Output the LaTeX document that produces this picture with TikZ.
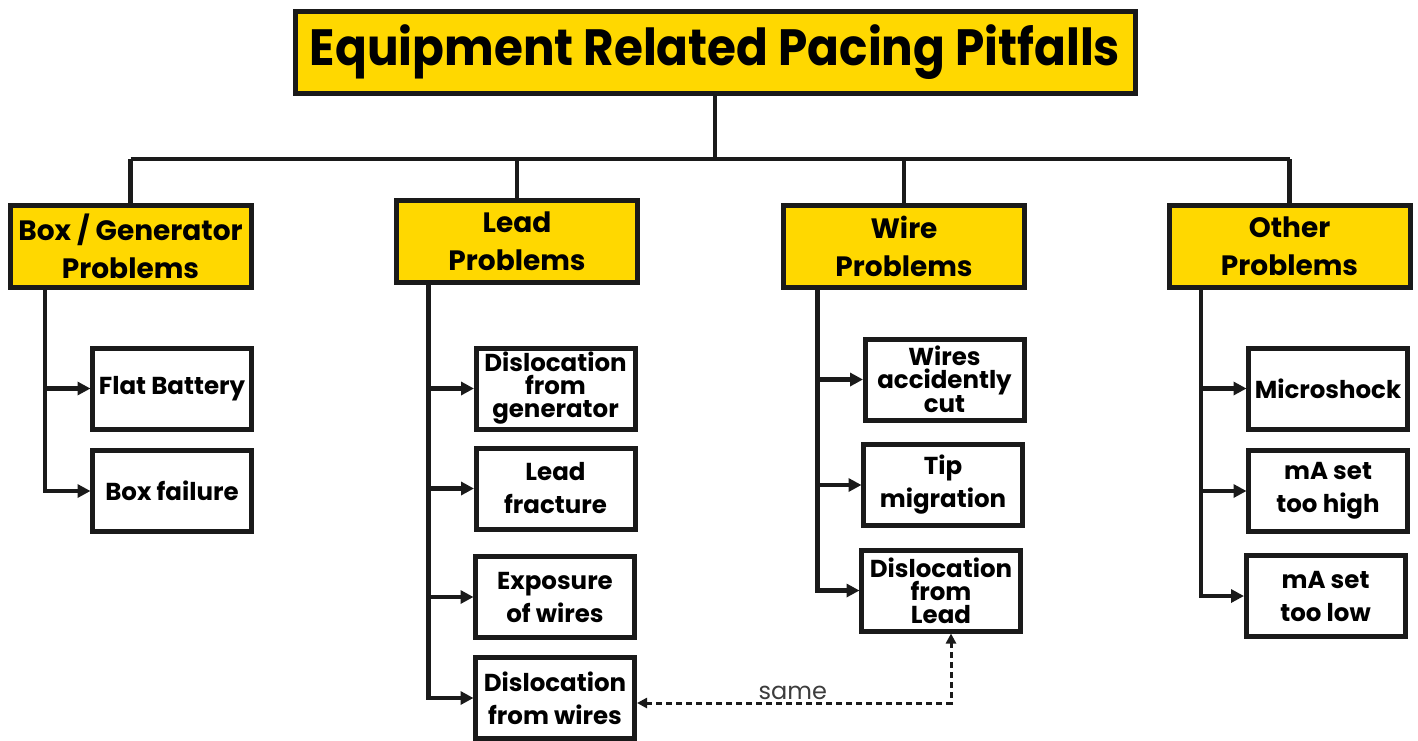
\documentclass[tikz,border=0pt]{standalone}
\usepackage{fontspec}
\setmainfont{Poppins}
\usetikzlibrary{arrows.meta,calc}
\definecolor{gyel}{RGB}{255,216,0}
\definecolor{ink}{RGB}{26,26,26}
\begin{document}
\begin{tikzpicture}[x=1pt,y=-1pt,
  every node/.style={inner sep=0pt, outer sep=0pt},
  titlebox/.style={draw=ink, fill=gyel, line width=5pt, minimum width=840pt, minimum height=82pt, font=\fontsize{51}{51}\selectfont\bfseries},
  hdr/.style={draw=ink, fill=gyel, line width=5pt, minimum width=241pt, minimum height=82pt, align=center, font=\fontsize{28}{38}\selectfont\bfseries},
  kid/.style={draw=ink, fill=white, line width=5pt, minimum width=159pt, minimum height=81pt, align=center, font=\fontsize{24.5}{33}\selectfont\bfseries},
  tight/.style={font=\fontsize{24.5}{23}\selectfont\bfseries},
  link/.style={draw=ink, line width=4.5pt},
  arr/.style={draw=ink, line width=4.5pt, shorten >=2pt, -{Triangle[length=13pt,width=13pt]}},
  dashln/.style={draw=ink, line width=3pt, dash pattern=on 6pt off 4pt, shorten >=2.5pt, shorten <=2.5pt, {Triangle[length=10pt,width=10pt]}-{Triangle[length=10pt,width=10pt]}}
]
\useasboundingbox (0,0) rectangle (1418,740);

% title
\node[titlebox] (title) at (715,52) {\resizebox{810pt}{\height}{Equipment Related Pacing Pitfalls}};

% headers
\node[hdr] (gen)   at (130.5,246) {Box / Generator\\Problems};
\node[hdr] (lead)  at (517,241.5) {Lead\\Problems};
\node[hdr] (wire)  at (904,246)   {Wire\\Problems};
\node[hdr] (other) at (1289.5,246.5) {Other\\Problems};

% bus
\coordinate (bus) at (715,159);
\draw[link, line width=4pt] (title.south) -- (bus);
\draw[link] (gen.north |- bus) -- (other.north |- bus);
\foreach \n in {gen,lead,wire,other} \draw[link] (\n.north) -- (\n.north |- bus);

% children: box / generator
\node[kid] (fb) at (172,388.5) {Flat Battery};
\node[kid] (bf) at (172,491) {Box failure};
% lead
\node[kid,tight] (dg) at (555.5,388.5) {Dislocation\\from\\generator};
\node[kid] (lf) at (555.5,488.5) {Lead\\fracture};
\node[kid] (ew) at (555,597) {Exposure\\of wires};
\node[kid] (dw) at (555,698) {Dislocation\\from wires};
% wire
\node[kid,tight] (wc) at (944.5,379.5) {Wires\\accidently\\cut};
\node[kid] (tm) at (943,485) {Tip\\migration};
\node[kid,tight] (dl) at (941,590.5) {Dislocation\\from\\Lead};
% other
\node[kid] (ms) at (1328,388.5) {Microshock};
\node[kid] (mh) at (1328,491) {mA set\\too high};
\node[kid] (ml) at (1325.5,596) {mA set\\too low};

% trunks
\coordinate (gT) at ($(gen.south west)+(35,0)$);
\coordinate (lT) at ($(lead.south west)+(32,0)$);
\coordinate (wT) at ($(wire.south west)+(34,0)$);
\coordinate (oT) at ($(other.south west)+(32,0)$);

\draw[arr] (gT) |- (bf.west);
\draw[arr] (gT |- fb.west) -- (fb.west);

\draw[arr] (lT) |- (dw.west);
\foreach \c in {dg,lf,ew} \draw[arr] (lT |- \c.west) -- (\c.west);

\draw[arr] (wT) |- (dl.west);
\foreach \c in {wc,tm} \draw[arr] (wT |- \c.west) -- (\c.west);

\draw[arr] (oT) |- (ml.west);
\foreach \c in {ms,mh} \draw[arr] (oT |- \c.west) -- (\c.west);

% dashed "same"
\coordinate (dk) at (951,703);
\draw[dashln] (dw.east |- dk) -- node[pos=0.5, above=3pt, font=\fontsize{24}{24}\selectfont, text=ink!85] (same) {same} (dk) -- (dk |- dl.south);
\end{tikzpicture}
\end{document}
